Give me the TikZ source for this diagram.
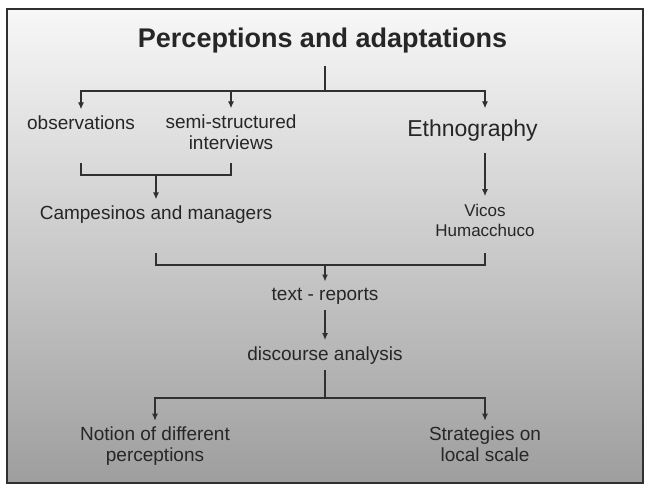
\documentclass[tikz,border=0pt]{standalone}
\usepackage{fontspec}
\setmainfont{Liberation Sans}
\usetikzlibrary{arrows.meta}
\definecolor{ink}{HTML}{262626}
\definecolor{edge}{HTML}{303030}
\tikzset{
  lbl/.style={text=ink, font=\fontsize{19}{21}\selectfont, align=center, anchor=base,
    inner xsep=0pt, inner ysep=6pt},
  ln/.style={draw=edge, line width=1.2pt},
  arr/.style={ln, -{Latex[length=7pt,width=6pt]}}
}
\begin{document}
\begin{tikzpicture}[x=1pt,y=-1pt]
\useasboundingbox (0,0) rectangle (650,491);
\shade[top color=black!3, bottom color=black!38] (7,9) rectangle (643,483);
\draw[edge, line width=1.2pt] (7,9) rectangle (643,483);

\node[lbl, font=\bfseries\fontsize{27}{32}\selectfont, inner ysep=13pt] (title) at (322.5,47) {Perceptions and adaptations};
\node[lbl] (obs) at (81,129.3) {observations};
\node[lbl] (sem) at (231,149.3) {semi-structured\\interviews};
\node[lbl, font=\fontsize{23}{26}\selectfont, inner ysep=11.5pt] (eth) at (472.5,136.7) {Ethnography};
\node[lbl] (camp) at (156,219.3) {Campesinos and managers};
\node[lbl, font=\fontsize{17}{20}\selectfont, inner ysep=8pt] (vic) at (485,236.7) {Vicos\\Humacchuco};
\node[lbl] (rep) at (325,300) {text - reports};
\node[lbl] (disc) at (325,360) {discourse analysis};
\node[lbl] (notion) at (155,461.7) {Notion of different\\perceptions};
\node[lbl] (strat) at (485,461.7) {Strategies on\\local scale};

\coordinate (fork1) at (325,91);
\coordinate (join1) at (156,175);
\coordinate (join2) at (325,265);
\coordinate (fork3) at (325,398);
\coordinate (b1l) at (81,163);
\coordinate (b1r) at (231,163);
\coordinate (b2l) at (156,253);
\coordinate (b2r) at (485,253);

\draw[ln] (fork1 |- title.south) -- (fork1);
\draw[arr] (fork1) -| (obs.north);
\draw[arr] (fork1) -| (sem.north);
\draw[arr] (fork1) -| (eth.north -| vic.north);
\draw[arr] (eth.south -| vic.north) -- (vic.north);
\draw[ln] (b1l) |- (join1) -| (b1r);
\draw[arr] (join1) -- (camp.north);
\draw[ln] (b2l) |- (join2) -| (b2r);
\draw[arr] (join2) -- (rep.north);
\draw[arr] (rep.south) -- (disc.north);
\draw[ln] (disc.south) -- (fork3);
\draw[arr] (fork3) -| (notion.north);
\draw[arr] (fork3) -| (strat.north);
\end{tikzpicture}
\end{document}
